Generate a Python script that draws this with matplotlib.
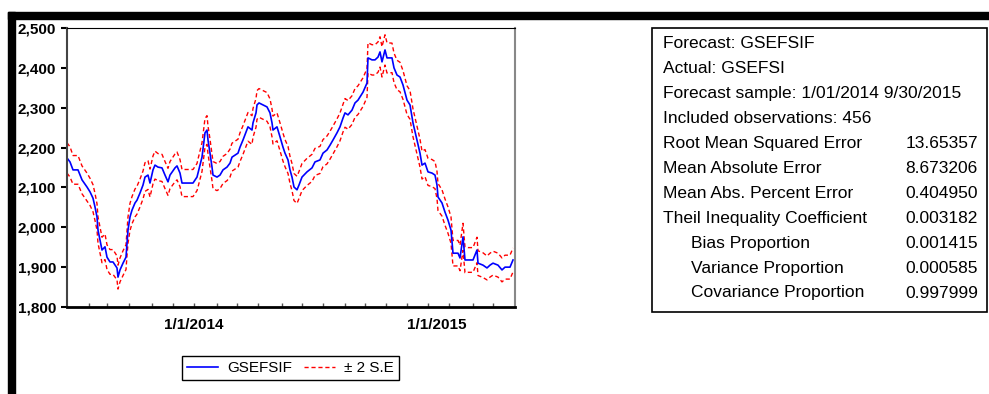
import matplotlib.pyplot as plt
from matplotlib.patches import Rectangle

plt.rcParams['font.family'] = ['Liberation Sans', 'DejaVu Sans']

obs = [0, 3, 6, 11, 15, 20, 23, 26, 28, 30,
       31, 33, 35, 38, 40, 43, 46, 50, 51, 53,
       56, 59, 60, 61, 63, 65, 68, 70, 73, 76,
       78, 81, 83, 86, 88, 91, 95, 98, 101, 103,
       108, 110, 113, 115, 120, 126, 130, 131, 135, 138,
       140, 141, 143, 145, 146, 150, 153, 156, 160, 163,
       165, 168, 171, 173, 176, 179, 181, 185, 186, 189,
       190, 192, 196, 200, 203, 205, 206, 210, 213, 216,
       218, 221, 223, 225, 227, 230, 232, 235, 240, 245,
       248, 253, 256, 260, 263, 266, 270, 273, 276, 278,
       281, 285, 288, 291, 296, 300, 301, 305, 308, 311,
       313, 315, 318, 320, 325, 327, 330, 333, 336, 340,
       343, 346, 350, 353, 355, 358, 361, 365, 368, 370,
       371, 375, 378, 381, 384, 386, 391, 393, 396, 398,
       401, 406, 410, 411, 416, 420, 423, 426, 431, 435,
       438, 443, 446]
forecast = [2174, 2164, 2144, 2144, 2119, 2101, 2089, 2073, 2051, 2026,
            1993, 1968, 1943, 1951, 1925, 1913, 1913, 1898, 1875, 1893,
            1910, 1925, 1961, 1993, 2026, 2043, 2061, 2068, 2086, 2106,
            2126, 2131, 2111, 2144, 2156, 2151, 2149, 2131, 2114, 2131,
            2149, 2154, 2136, 2111, 2111, 2111, 2126, 2136, 2176, 2237,
            2244, 2219, 2186, 2151, 2131, 2126, 2131, 2144, 2151, 2161,
            2176, 2181, 2186, 2201, 2219, 2239, 2252, 2244, 2262, 2287,
            2307, 2312, 2307, 2302, 2287, 2262, 2244, 2252, 2227, 2201,
            2186, 2169, 2144, 2126, 2101, 2094, 2106, 2126, 2139, 2149,
            2164, 2169, 2186, 2194, 2206, 2219, 2237, 2252, 2274, 2287,
            2282, 2294, 2312, 2319, 2339, 2362, 2425, 2420, 2420, 2427,
            2440, 2415, 2445, 2425, 2425, 2400, 2382, 2377, 2357, 2319,
            2307, 2262, 2219, 2186, 2156, 2161, 2139, 2136, 2131, 2106,
            2076, 2061, 2038, 2018, 1993, 1935, 1935, 1923, 1976, 1918,
            1918, 1918, 1943, 1910, 1905, 1898, 1905, 1910, 1905, 1893,
            1900, 1900, 1918]
# two standard errors around the forecast
band = [38, 38, 36, 36, 35, 35, 34, 34, 34, 33,
        33, 33, 32, 32, 31, 31, 31, 30, 30, 30,
        31, 31, 32, 33, 34, 34, 35, 35, 35, 35,
        36, 36, 35, 35, 35, 34, 34, 34, 34, 34,
        35, 35, 34, 34, 34, 34, 34, 35, 36, 36,
        36, 35, 35, 34, 34, 34, 34, 34, 34, 35,
        35, 35, 35, 36, 36, 36, 36, 36, 36, 36,
        36, 36, 36, 36, 35, 35, 35, 35, 35, 35,
        34, 34, 34, 34, 34, 34, 34, 34, 34, 34,
        34, 34, 34, 35, 35, 35, 35, 35, 35, 36,
        36, 36, 36, 36, 36, 36, 38, 38, 38, 38,
        38, 38, 38, 38, 37, 37, 37, 37, 36, 36,
        36, 35, 35, 35, 35, 34, 34, 34, 34, 34,
        34, 33, 33, 33, 33, 32, 32, 32, 34, 32,
        31, 31, 32, 31, 31, 30, 30, 30, 30, 30,
        30, 30, 30]

tick_obs = [22, 40, 62, 85, 106, 127, 150, 170, 191, 215, 235, 256,
            278, 298, 319, 340, 361, 382, 406, 426]
label_obs = [127, 370]
label_text = ['1/1/2014', '1/1/2015']
yticks = [1800, 1900, 2000, 2100, 2200, 2300, 2400, 2500]

stat_names = ['Forecast: GSEFSIF', 'Actual: GSEFSI',
              'Forecast sample: 1/01/2014 9/30/2015',
              'Included observations: 456',
              'Root Mean Squared Error', 'Mean Absolute Error',
              'Mean Abs. Percent Error', 'Theil Inequality Coefficient',
              'Bias Proportion', 'Variance Proportion', 'Covariance Proportion']
stat_values = ['', '', '', '', '13.65357', '8.673206', '0.404950',
               '0.003182', '0.001415', '0.000585', '0.997999']
stat_indent = [False] * 8 + [True] * 3

W, H = 989, 394
fig = plt.figure(figsize=(W / 100, H / 100), dpi=100)

# black frame bars (top and left)
fig.patches.append(Rectangle((8 / W, 1 - 19 / H), 981 / W, 7 / H,
                             transform=fig.transFigure, color='black', zorder=5))
fig.patches.append(Rectangle((8 / W, 0), 7 / W, 1 - 12 / H,
                             transform=fig.transFigure, color='black', zorder=5))

ax = fig.add_axes([67 / W, 1 - 307 / H, 448 / W, 279 / H])
upper = [f + b for f, b in zip(forecast, band)]
lower = [f - b for f, b in zip(forecast, band)]
ax.plot(obs, upper, color='#ff0000', lw=1.0, ls=(0, (3, 2)), label='± 2 S.E')
ax.plot(obs, lower, color='#ff0000', lw=1.0, ls=(0, (3, 2)))
ax.plot(obs, forecast, color='#0000ff', lw=1.2, label='GSEFSIF')

ax.set_xlim(0, 448)
ax.set_ylim(1800, 2500)
ax.set_yticks(yticks)
ax.set_yticklabels([f'{v:,}' for v in yticks], fontweight='bold', fontsize=11)
ax.xaxis.remove_overlapping_locs = False
ax.set_xticks(tick_obs)
ax.set_xticklabels([])
ax.set_xticks(label_obs, minor=True)
ax.set_xticklabels(label_text, minor=True, fontweight='bold', fontsize=11)
ax.tick_params(axis='x', which='major', direction='in', length=3, width=1, color='#555555')
ax.tick_params(axis='x', which='minor', length=0, pad=8)
ax.tick_params(axis='y', direction='out', length=4.5, width=1.5, pad=3.5)

ax.spines['left'].set_linewidth(1.5)
ax.spines['left'].set_color('#444444')
ax.spines['bottom'].set_linewidth(2)
ax.spines['top'].set_linewidth(0.8)
ax.spines['right'].set_linewidth(1.5)
ax.spines['right'].set_color('#888888')

h, l = ax.get_legend_handles_labels()
leg = fig.legend([h[1], h[0]], [l[1], l[0]], loc='center',
                 bbox_to_anchor=(290.5 / W, 1 - 368 / H), ncol=2, fontsize=11,
                 frameon=True, fancybox=False, edgecolor='black', framealpha=1,
                 handlelength=2.0, handletextpad=0.6, columnspacing=0.8,
                 borderpad=0.35)
leg.get_frame().set_linewidth(1)

# statistics box
fig.patches.append(Rectangle((652 / W, 1 - 312 / H), 335 / W, 284 / H,
                             transform=fig.transFigure, fill=False,
                             edgecolor='black', lw=1.2))
for i, (name, val, ind) in enumerate(zip(stat_names, stat_values, stat_indent)):
    y = 1 - (44 + i * 24.9) / H
    x = (691 if ind else 663) / W
    fig.text(x, y, name, fontsize=12.5, va='center', ha='left')
    if val:
        fig.text(978 / W, y, val, fontsize=12.5, va='center', ha='right')

fig.savefig('out.png', dpi=100)
